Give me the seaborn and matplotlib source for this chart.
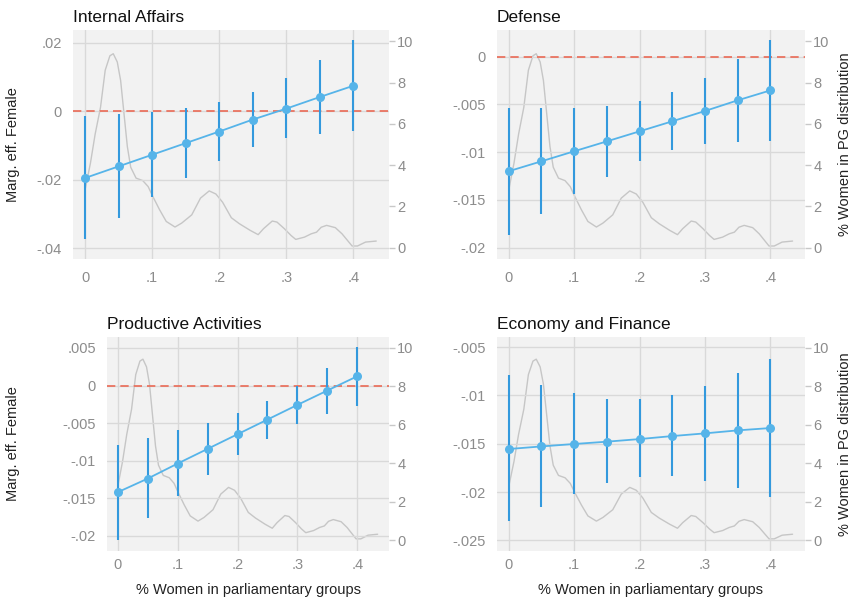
import numpy as np
import pandas as pd
import seaborn as sns
import matplotlib.pyplot as plt

# share of women in the parliamentary group (x of the marginal effects)
x_share = [0, .05, .1, .15, .2, .25, .3, .35, .4]
x_ticks = [0, .1, .2, .3, .4]
x_ticklabels = ['0', '.1', '.2', '.3', '.4']

# density of % women in PG (right axis)
density_x = [0, .008, .015, .023, .030, .037, .042, .048, .053, .058, .063, .068, .076,
             .086, .094, .101, .111, .121, .134, .144, .159, .172, .185, .195, .205, .218,
             .230, .246, .258, .266, .279, .286, .297, .307, .314, .327, .337, .345, .352,
             .360, .373, .383, .398, .406, .418, .434]
density_y = [2.8, 4.1, 5.5, 6.8, 8.6, 9.3, 9.4, 9.0, 8.1, 6.5, 4.9, 3.9, 3.37,
             3.25, 2.96, 2.48, 1.84, 1.27, 1.0, 1.19, 1.59, 2.4, 2.75, 2.6, 2.2, 1.45,
             1.16, 0.84, 0.63, 0.92, 1.29, 1.24, 0.92, 0.59, 0.40, 0.51, 0.67, 0.75, 0.99,
             1.08, 0.97, 0.67, 0.08, 0.08, 0.27, 0.32]
density_ticks = [0, 2, 4, 6, 8, 10]

# Internal Affairs
me_internal = [-0.0195, -0.0161, -0.0127, -0.0093, -0.0059, -0.0024, 0.0008, 0.0042, 0.0075]
lo_internal = [-0.0374, -0.0312, -0.0251, -0.0196, -0.0145, -0.0105, -0.0079, -0.0065, -0.0057]
hi_internal = [-0.0013, -0.0008, -0.0003, 0.0009, 0.0026, 0.0058, 0.0099, 0.0150, 0.0208]
yt_internal = [-.04, -.02, 0, .02]
yl_internal = ['-.04', '-.02', '0', '.02']

# Defense
me_defense = [-0.0120, -0.01096, -0.00991, -0.00887, -0.00782, -0.00677, -0.00569, -0.00457, -0.00353]
lo_defense = [-0.01867, -0.01651, -0.01442, -0.01257, -0.01096, -0.00981, -0.00918, -0.00894, -0.00883]
hi_defense = [-0.00534, -0.00534, -0.00534, -0.00517, -0.00464, -0.00367, -0.0022, -0.00028, 0.00175]
yt_defense = [-.02, -.015, -.01, -.005, 0]
yl_defense = ['-.02', '-.015', '-.01', '-.005', '0']

# Productive Activities
me_product = [-0.01418, -0.01237, -0.01037, -0.00842, -0.00647, -0.00452, -0.00257, -0.00066, 0.00124]
lo_product = [-0.02048, -0.01755, -0.01472, -0.01192, -0.00926, -0.00705, -0.00514, -0.00381, -0.00275]
hi_product = [-0.00793, -0.00696, -0.00594, -0.00496, -0.00368, -0.00204, -0.00009, 0.00239, 0.00514]
yt_product = [-.02, -.015, -.01, -.005, 0, .005]
yl_product = ['-.02', '-.015', '-.01', '-.005', '0', '.005']

# Economy and Finance
me_economy = [-0.01555, -0.01528, -0.01503, -0.01479, -0.01452, -0.01421, -0.01393, -0.01362, -0.01338]
lo_economy = [-0.02303, -0.02155, -0.02017, -0.01907, -0.01845, -0.01834, -0.01883, -0.01959, -0.02052]
hi_economy = [-0.00793, -0.0089, -0.00976, -0.01034, -0.01041, -0.0100, -0.0090, -0.00766, -0.00621]
yt_economy = [-.025, -.02, -.015, -.01, -.005]
yl_economy = ['-.025', '-.02', '-.015', '-.01', '-.005']

sns.set_style('white')
plt.rcParams['font.family'] = ['Liberation Sans', 'DejaVu Sans']

BG = '#f2f2f2'
GRID = '#d9d9d9'
TICK = '#8c8c8c'
LINE = '#56b4e9'
CI = '#3399dd'

fig = plt.figure(figsize=(8.53, 6.02), dpi=100)
W, H = 853, 602


def box(x0, x1, y0, y1):
    return [x0 / W, 1 - y1 / H, (x1 - x0) / W, (y1 - y0) / H]


def panel(rect, title, me, lo, hi, yt, yl, ylim, xpad):
    ax = fig.add_axes(rect)
    tw = ax.twinx()
    ax.set_zorder(tw.get_zorder() + 1)
    ax.patch.set_visible(False)
    tw.patch.set_visible(True)
    tw.set_facecolor(BG)

    # density on the right axis
    sns.lineplot(x=density_x, y=density_y, ax=tw, color='#c6c6c6', lw=1)
    tw.set_ylim(-0.55, 10.55)
    tw.set_yticks(density_ticks)
    tw.set_yticklabels([str(t) for t in density_ticks])
    tw.tick_params(axis='y', length=4, width=1, color='#c8c8c8', pad=2,
                   labelcolor=TICK, labelsize=10.5)

    # marginal effects
    ax.axhline(0, color='#ea6a55', ls='--', lw=1.2, dashes=(5, 3), zorder=1.8)
    ax.vlines(x_share, lo, hi, color=CI, lw=1.5, zorder=2)
    sns.lineplot(x=x_share, y=me, ax=ax, color=LINE, lw=1.3, marker='o',
                 markersize=6.5, markeredgewidth=0, zorder=3)
    ax.set_ylim(*ylim)
    ax.set_yticks(yt)
    ax.set_yticklabels(yl)
    ax.set_xlim(-0.018, 0.453)
    ax.set_xticks(x_ticks)
    ax.set_xticklabels(x_ticklabels)
    ax.set_axisbelow(True)
    ax.grid(True, color=GRID, lw=1)
    ax.tick_params(axis='y', length=0, pad=8, labelcolor=TICK, labelsize=10.5)
    ax.tick_params(axis='x', length=0, pad=xpad, labelcolor=TICK, labelsize=10.5)
    ax.set_xlabel('')
    ax.set_ylabel('')
    tw.set_ylabel('')
    for a in (ax, tw):
        for s in a.spines.values():
            s.set_visible(False)
    ax.set_title(title, loc='left', fontsize=12.5, pad=6, color='#111111')
    return ax


ax1 = panel(box(73, 389, 30, 259), 'Internal Affairs', me_internal, lo_internal,
            hi_internal, yt_internal, yl_internal, (-0.0432, 0.0238), 9)
ax2 = panel(box(497, 805, 30, 259), 'Defense', me_defense, lo_defense,
            hi_defense, yt_defense, yl_defense, (-0.0212, 0.0028), 9)
ax3 = panel(box(107, 389, 337, 551), 'Productive Activities', me_product, lo_product,
            hi_product, yt_product, yl_product, (-0.0220, 0.00646), 5)
ax4 = panel(box(497, 805, 337, 551), 'Economy and Finance', me_economy, lo_economy,
            hi_economy, yt_economy, yl_economy, (-0.0261, -0.00396), 5)

for ax in (ax3, ax4):
    ax.set_xlabel('% Women in parliamentary groups', fontsize=10.5, color='#222222',
                  labelpad=8)

# y titles
for yc in (144.5, 444):
    fig.text(13 / W, 1 - yc / H, 'Marg. eff. Female', rotation=90, ha='center',
             va='center', fontsize=10.5, color='#222222')
    fig.text(845 / W, 1 - yc / H, '% Women in PG distribution', rotation=90,
             ha='center', va='center', fontsize=10.5, color='#222222')

fig.savefig('out.png', dpi=100, facecolor='white')
